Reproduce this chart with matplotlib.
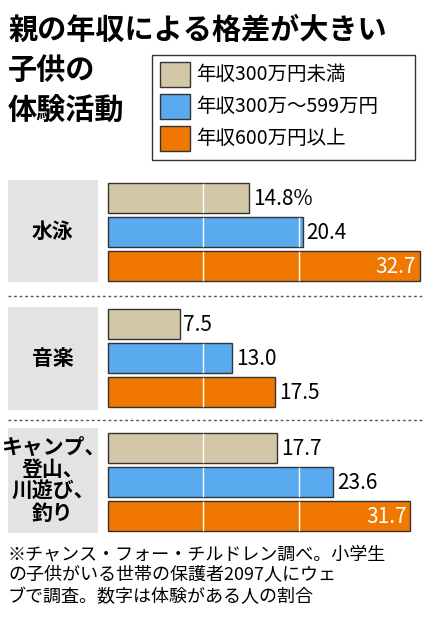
import matplotlib
matplotlib.use("Agg")
import matplotlib.pyplot as plt
from matplotlib.patches import Rectangle

plt.rcParams['font.family'] = ['Noto Sans CJK JP', 'DejaVu Sans']

categories = ["水泳", "音楽", "キャンプ、\n登山、\n川遊び、\n釣り"]
series_names = ["年収300万円未満", "年収300万～599万円", "年収600万円以上"]
low = [14.8, 7.5, 17.7]
mid = [20.4, 13.0, 23.6]
high = [32.7, 17.5, 31.7]
colors = ["#d4c7a7", "#5aaaf0", "#f07800"]
title_lines = ["親の年収による格差が大きい", "子供の", "体験活動"]

fig = plt.figure(figsize=(4.26, 6.4), dpi=100)
ax = fig.add_axes([0, 0, 1, 1])
scale = 9.54
ax.set_xlim(-108 / scale, (426 - 108) / scale)
ax.set_ylim(640, 0)
ax.axis('off')

group_top = [183, 309, 433]
box = [(180, 282), (307, 410), (428, 533)]
bh, gap = 30, 34
series = [low, mid, high]
for g in range(3):
    b0, b1 = box[g]
    ax.add_patch(Rectangle((-100 / scale, b0), 90 / scale, b1 - b0, color="#e3e3e3", lw=0))
    ax.text(-55 / scale, (b0 + b1) / 2, categories[g], ha='center', va='center',
            fontsize=15, fontweight='bold', linespacing=1.05)
    for s in range(3):
        y = group_top[g] + s * gap
        v = series[s][g]
        ax.barh(y + bh / 2, v, height=bh, left=0, color=colors[s], edgecolor="#333333", lw=1)
        for gx in (10, 20):
            if gx < v:
                ax.plot([gx, gx], [y + 1, y + bh - 1], color='white', lw=1)
        lab = f"{v:.1f}" + ("%" if (g == 0 and s == 0) else "")
        if s == 2 and g != 1:
            ax.text(v - 0.4, y + bh / 2 + 1, lab, ha='right', va='center', fontsize=15, color='white')
        else:
            ax.text(v + 0.4, y + bh / 2 + 1, lab, ha='left', va='center', fontsize=15)

for yy in (296, 420):
    ax.plot([-100 / scale, 33], [yy, yy], color='#555555', lw=1, ls=(0, (2, 2)))

for i, t in enumerate(title_lines):
    ax.text(-100 / scale, 30 + i * 40, t, ha='left', va='center',
            fontsize=21, fontweight='bold')

ax.add_patch(Rectangle((44 / scale, 55), 263 / scale, 105, fill=False, edgecolor='#333333', lw=1))
for s in range(3):
    y = 62 + s * 32
    ax.add_patch(Rectangle((52 / scale, y), 30 / scale, 25, facecolor=colors[s], edgecolor='#333333', lw=1))
    ax.text(88 / scale, y + 13, series_names[s], ha='left', va='center', fontsize=14)

ax.text(-100 / scale, 545, "※チャンス・フォー・チルドレン調べ。小学生\nの子供がいる世帯の保護者2097人にウェ\nブで調査。数字は体験がある人の割合",
        ha='left', va='top', fontsize=13, linespacing=1.25)

fig.savefig("out.png", dpi=100)
